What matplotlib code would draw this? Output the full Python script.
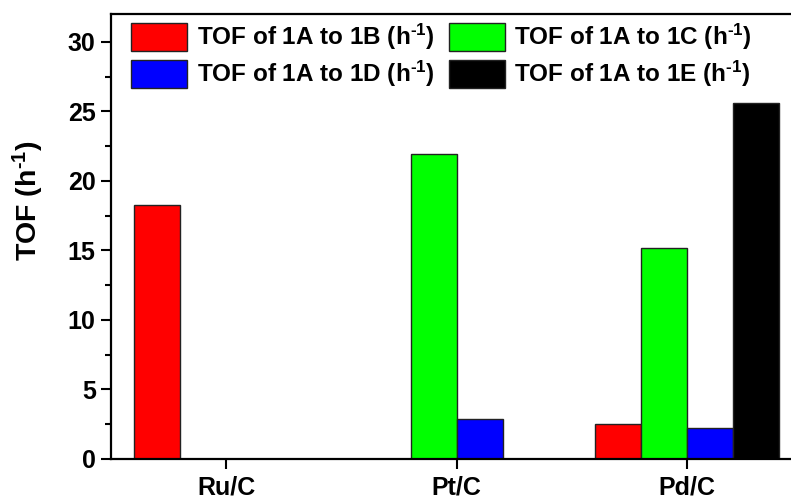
import numpy as np
import matplotlib
matplotlib.use("Agg")
import matplotlib.pyplot as plt
from matplotlib.ticker import MultipleLocator

plt.rcParams['font.family'] = ['Liberation Sans', 'DejaVu Sans']
plt.rcParams['font.weight'] = 'bold'
plt.rcParams['mathtext.fontset'] = 'custom'
plt.rcParams['mathtext.rm'] = 'Liberation Sans:bold'
plt.rcParams['mathtext.bf'] = 'Liberation Sans:bold'
plt.rcParams['mathtext.default'] = 'bf'

catalysts = ["Ru/C", "Pt/C", "Pd/C"]
series_labels = [
    r"TOF of 1A to 1B (h$^{\text{-1}}$)",
    r"TOF of 1A to 1C (h$^{\text{-1}}$)",
    r"TOF of 1A to 1D (h$^{\text{-1}}$)",
    r"TOF of 1A to 1E (h$^{\text{-1}}$)",
]
tof_1b = [18.3, 0.0, 2.55]
tof_1c = [0.0, 21.9, 15.2]
tof_1d = [0.0, 2.9, 2.2]
tof_1e = [0.0, 0.0, 25.6]
colors = ["#ff0000", "#00ff00", "#0000ff", "#000000"]

fig = plt.figure(figsize=(7.91, 5.0), dpi=100)
ax = fig.add_axes([0.1403, 0.082, 0.8597, 0.890])

x = np.arange(len(catalysts))
width = 0.2
offsets = [-1.5, -0.5, 0.5, 1.5]
handles = []
for vals, off, col, lab in zip([tof_1b, tof_1c, tof_1d, tof_1e], offsets, colors, series_labels):
    h = ax.bar(x + off * width, vals, width, color=col, edgecolor="#222222",
               linewidth=1.0, label=lab)
    handles.append(h)

ax.set_xlim(-0.5, 2.45)
ax.set_ylim(0, 32)
ax.set_xticks(x)
ax.set_xticklabels(catalysts, fontsize=18, fontweight='bold')
ax.yaxis.set_major_locator(MultipleLocator(5))
ax.yaxis.set_minor_locator(MultipleLocator(2.5))
ax.tick_params(axis='y', which='major', direction='out', length=7, width=1.5, labelsize=18, pad=4)
ax.tick_params(axis='y', which='minor', direction='out', length=4, width=1.5)
ax.tick_params(axis='x', which='major', direction='out', length=7, width=1.5, labelsize=18, pad=5)
for lbl in ax.get_yticklabels():
    lbl.set_fontweight('bold')

ax.set_ylabel(r"TOF (h$^{\text{-1}}$)", fontsize=20.5, fontweight='bold')
ax.yaxis.set_label_coords(-0.096, 0.58)

for side in ["left", "bottom", "top"]:
    ax.spines[side].set_linewidth(1.6)
ax.spines["right"].set_visible(False)

order = [0, 2, 1, 3]
leg = ax.legend([handles[i] for i in order], [series_labels[i] for i in order],
                ncol=2, frameon=False, loc="upper left",
                bbox_to_anchor=(0.0294, 0.982), fontsize=17.5,
                handlelength=2.3, handleheight=1.4, handletextpad=0.4,
                columnspacing=0.59, labelspacing=0.27, borderaxespad=0.0,
                borderpad=0.0)
for t in leg.get_texts():
    t.set_fontweight('bold')

fig.savefig("out.png", dpi=100)
